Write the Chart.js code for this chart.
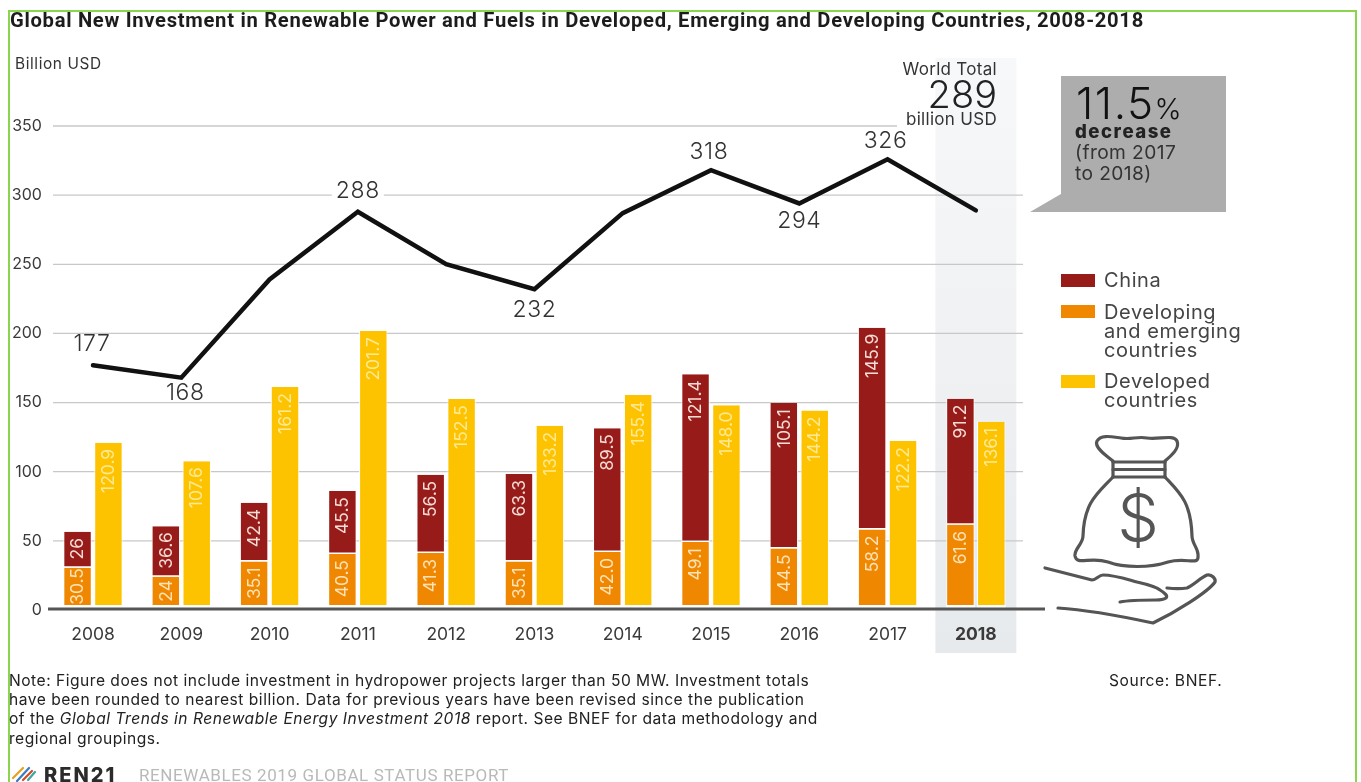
<!DOCTYPE html>
<html>
<head>
<meta charset="utf-8">
<title>Global New Investment in Renewable Power and Fuels</title>
<script src="https://cdn.jsdelivr.net/npm/chart.js@4"></script>
<style>
  html, body { margin: 0; padding: 0; background: #fff; }
  #page { position: relative; width: 1361px; height: 782px; overflow: hidden; font-family: Inter, "Liberation Sans", sans-serif; color: #333; }
  #chart { position: absolute; left: 0; top: 0; }
  #page svg { position: absolute; left: 0; top: 0; }
  .txt { position: absolute; white-space: nowrap; }
  #frame { position: absolute; left: 8px; top: 10px; width: 1345px; height: 800px; border: 2.5px solid #8ad44e; }
  #heading { left: 10px; top: 9px; font: 700 20.2px/22px Roboto, sans-serif; color: #1c1c1c; letter-spacing: .7px; }
  #unit { left: 15px; top: 55px; font-size: 15.4px; line-height: 18px; letter-spacing: .6px; }
  #world { right: 364px; top: 60px; text-align: right; font-size: 17px; line-height: 19px; letter-spacing: .3px; }
  #world b { display: block; font-weight: 300; font-size: 38px; line-height: 31px; color: #222; letter-spacing: 0; }
  #pct { left: 1076px; top: 83px; font-weight: 300; font-size: 44px; line-height: 40px; color: #111; letter-spacing: 1.5px; }
  #pct span { font-size: 29px; letter-spacing: 0; }
  #callout { left: 1075px; top: 121px; font-size: 19.2px; line-height: 21px; letter-spacing: .4px; color: #333; }
  #callout b { color: #222; font-weight: 800; font-size: 18.6px; letter-spacing: 1.5px; }
  .swatch { position: absolute; left: 1061px; width: 34px; height: 13px; }
  .legend { left: 1104px; font-size: 20px; line-height: 19px; letter-spacing: .6px; color: #444; }
  #note { left: 9px; top: 670.5px; font-size: 15.6px; line-height: 19.4px; letter-spacing: .5px; color: #222; }
  #source { left: 1109px; top: 671px; font-size: 15.6px; line-height: 19px; letter-spacing: .6px; color: #222; }
  #brand { left: 44px; top: 763px; font-weight: 800; font-size: 20px; line-height: 24px; letter-spacing: 2px; color: #2b2b2b; }
  #report { left: 139px; top: 764px; font: 400 17px/22px "Liberation Sans Narrow", Roboto, sans-serif; letter-spacing: .6px; color: #b9b9b9; }
</style>
</head>
<body>
<div id="page">
  <canvas id="chart" width="1361" height="782"></canvas>
  <svg width="1361" height="782" fill="none">
    <!-- callout box -->
    <path d="M1061 76H1226V212H1030L1061 194Z" fill="#aeadae"/>
    <!-- money bag and open hand -->
    <g stroke="#555" stroke-width="3.2" stroke-linejoin="round" stroke-linecap="round">
      <path d="M1113 461C1105 455 1094 447 1097 441C1101 434 1113 437 1121 438C1131 440 1137 436 1147 438C1158 440 1174 434 1177 441C1180 448 1172 455 1165 461"/>
      <path d="M1113 462H1165M1113 469.5H1165M1113 477H1165"/>
      <path d="M1113 462V477M1165 462V477"/>
      <path d="M1113 477C1098 493 1084 502 1083 536C1083 544 1074 549 1075 556C1077 566 1090 556 1108 562C1124 568 1150 568 1168 562C1186 557 1199 566 1198 556C1199 549 1192 544 1192 536C1191 502 1180 493 1165 477"/>
      <path d="M1045 568L1092 580C1096 580 1099 575 1103 575C1114 575 1126 579 1137 582C1146 584 1155 586 1160 590C1165 593 1168 596 1166 598C1163 600 1160 600 1156 600C1144 600 1130 600 1120 602"/>
      <path d="M1167 588C1175 589 1181 589 1187 588C1194 585 1200 578 1207 575C1212 574 1216 579 1215 582C1208 592 1176 612 1153 623C1125 617 1090 610 1058 608"/>
    </g>
    <text x="1138" y="541" text-anchor="middle" font-family="Inter" font-weight="300" font-size="66" fill="#555">$</text>
    <!-- report mark -->
    <g stroke-width="2.2" stroke-linecap="round">
      <path d="M13 778L23 768" stroke="#e8a020"/>
      <path d="M17 781L29 768" stroke="#3b7bbf"/>
      <path d="M23 780L32 771" stroke="#d1492a"/>
      <path d="M28 780L35 772" stroke="#3aa7a0"/>
    </g>
  </svg>
  <div id="frame"></div>
  <div class="txt" id="heading">Global New Investment in Renewable Power and Fuels in Developed, Emerging and Developing Countries, 2008-2018</div>
  <div class="txt" id="unit">Billion USD</div>
  <div class="txt" id="world">World Total<b>289</b>billion USD</div>
  <div class="txt" id="pct">11.5<span>%</span></div>
  <div class="txt" id="callout"><b>decrease</b><br>(from 2017<br>to 2018)</div>
  <div class="swatch" style="top:274px;background:#971b18"></div>
  <div class="swatch" style="top:305px;background:#ef8700"></div>
  <div class="swatch" style="top:375px;background:#fdc300"></div>
  <div class="txt legend" style="top:271px">China</div>
  <div class="txt legend" style="top:303px">Developing<br>and emerging<br>countries</div>
  <div class="txt legend" style="top:372px">Developed<br>countries</div>
  <div class="txt" id="note">Note: Figure does not include investment in hydropower projects larger than 50 MW. Investment totals<br>have been rounded to nearest billion. Data for previous years have been revised since the publication<br>of the <i>Global Trends in Renewable Energy Investment 2018</i> report. See BNEF for data methodology and<br>regional groupings.</div>
  <div class="txt" id="source">Source: BNEF.</div>
  <div class="txt" id="brand">REN21</div>
  <div class="txt" id="report">RENEWABLES 2019 GLOBAL STATUS REPORT</div>
</div>

<script>
const years = ['2008', '2009', '2010', '2011', '2012', '2013', '2014', '2015', '2016', '2017', '2018'];

// kept as text because the printed form varies (24, 42.0, 148.0)
const developingText = ['30.5', '24', '35.1', '40.5', '41.3', '35.1', '42.0', '49.1', '44.5', '58.2', '61.6'];
const chinaText = ['26', '36.6', '42.4', '45.5', '56.5', '63.3', '89.5', '121.4', '105.1', '145.9', '91.2'];
const developedText = ['120.9', '107.6', '161.2', '201.7', '152.5', '133.2', '155.4', '148.0', '144.2', '122.2', '136.1'];

const worldTotal = [177, 168, 239, 288, 250, 232, 287, 318, 294, 326, 289];
const totalLabels = ['177', '168', '', '288', '', '232', '', '318', '294', '326', ''];
// label offset from the line point: dx, dy in px
const totalLabelOffsets = [[-1, -21], [4, 15], [0, 0], [0, -21], [0, 0], [0, 21], [0, 0], [-2, -18], [0, 18], [-2, -18], [0, 0]];

const yTicks = { min: 0, max: 350, step: 50 };

const RED = '#971b18', ORANGE = '#ef8700', YELLOW = '#fdc300';
const GRID = '#c8c8c8', AXIS = '#555';
const AXIS_GAP = 5; // white strip between bar feet and the axis line

function barDataset(label, text, color, stack, labelColor) {
  return {
    label: label,
    data: text.map(Number),
    valueText: text,
    valueColor: labelColor,
    backgroundColor: color,
    borderColor: '#fff',
    borderWidth: { top: 0, left: 1, right: 1, bottom: 1.5 },
    borderSkipped: false,
    stack: stack,
    categoryPercentage: 0.7,
    barPercentage: 0.92,
    order: 2
  };
}

// grey column behind the last year plus the grid lines
const backdrop = {
  id: 'backdrop',
  beforeDraw(chart) {
    const ctx = chart.ctx, x = chart.scales.x;
    const cx = x.getPixelForValue(years.length - 1);
    const fade = ctx.createLinearGradient(0, 58, 0, 653);
    fade.addColorStop(0, '#f7f8f9');
    fade.addColorStop(1, '#e7eaed');
    ctx.save();
    ctx.fillStyle = fade;
    ctx.fillRect(cx - 40.5, 58, 81, 595);
    ctx.restore();
  },
  beforeDatasetsDraw(chart) {
    const ctx = chart.ctx, y = chart.scales.y;
    ctx.save();
    ctx.strokeStyle = GRID;
    ctx.lineWidth = 1.3;
    y.ticks.forEach(t => {
      if (t.value === 0) return;
      const py = y.getPixelForValue(t.value);
      ctx.beginPath();
      ctx.moveTo(53, py);
      ctx.lineTo(t.value === 350 ? 897 : 1023, py);
      ctx.stroke();
    });
    ctx.restore();
  }
};

// rotated value labels, white gap above the axis, axis line and line labels
const annotations = {
  id: 'annotations',
  afterDatasetsDraw(chart) {
    const ctx = chart.ctx, x = chart.scales.x, y = chart.scales.y;
    const zero = y.getPixelForValue(0);
    ctx.save();

    chart.data.datasets.forEach((ds, i) => {
      if (!ds.valueText) return;
      chart.getDatasetMeta(i).data.forEach((bar, j) => {
        ctx.fillStyle = '#fff';
        ctx.fillRect(bar.x - bar.width / 2, zero - AXIS_GAP, bar.width, 3);
        ctx.save();
        ctx.font = '17.5px "Liberation Sans Narrow", Inter, sans-serif';
        // keep the number 6px under the bar top, or centre it when the segment is tight
        const room = Math.min(bar.base, zero - AXIS_GAP) - bar.y;
        const inset = Math.min(6, (room - ctx.measureText(ds.valueText[j]).width) / 2);
        ctx.translate(bar.x, bar.y + inset);
        ctx.rotate(-Math.PI / 2);
        ctx.fillStyle = ds.valueColor;
        ctx.textAlign = 'right';
        ctx.textBaseline = 'middle';
        ctx.fillText(ds.valueText[j], 0, 0.5);
        ctx.restore();
      });
    });

    ctx.strokeStyle = AXIS;
    ctx.lineWidth = 3;
    ctx.beginPath();
    ctx.moveTo(48, zero - 1);
    ctx.lineTo(1045, zero - 1);
    ctx.stroke();

    ctx.font = '300 23px Inter, sans-serif';
    ctx.letterSpacing = '0.6px';
    ctx.textAlign = 'center';
    ctx.textBaseline = 'middle';
    totalLabels.forEach((text, i) => {
      if (!text) return;
      const px = x.getPixelForValue(i) + totalLabelOffsets[i][0];
      const py = y.getPixelForValue(worldTotal[i]) + totalLabelOffsets[i][1];
      const w = ctx.measureText(text).width;
      ctx.fillStyle = '#fff';
      ctx.fillRect(px - w / 2 - 4, py - 9, w + 8, 18);
      ctx.fillStyle = '#333';
      ctx.fillText(text, px, py);
    });
    ctx.restore();
  }
};

new Chart(document.getElementById('chart'), {
  data: {
    labels: years,
    datasets: [
      barDataset('Developing and emerging countries', developingText, ORANGE, 'region', '#ffe2b5'),
      barDataset('China', chinaText, RED, 'region', '#f5dcd6'),
      barDataset('Developed countries', developedText, YELLOW, 'developed', '#ffe994'),
      {
        type: 'line',
        label: 'World Total',
        data: worldTotal,
        stack: 'total',
        borderColor: '#111',
        borderWidth: 4.5,
        borderCapStyle: 'round',
        borderJoinStyle: 'miter',
        tension: 0,
        pointRadius: 0,
        order: 1
      }
    ]
  },
  type: 'bar',
  options: {
    responsive: false,
    animation: false,
    layout: { padding: { left: 0, right: 341, top: 126, bottom: 132 } },
    plugins: { legend: { display: false }, tooltip: { enabled: false } },
    scales: {
      x: {
        stacked: true,
        afterFit: s => { s.height = 40; },
        grid: { display: false },
        border: { display: false },
        ticks: {
          autoSkip: false,
          maxRotation: 0,
          padding: 6,
          color: '#3a3a3a',
          font: ctx => ({ family: 'Inter', size: 17.5, weight: ctx.index === years.length - 1 ? '700' : '400' })
        }
      },
      y: {
        stacked: true,
        min: yTicks.min,
        max: yTicks.max,
        afterFit: s => { s.width = 48.85; },
        grid: { display: false },
        border: { display: false },
        ticks: {
          stepSize: yTicks.step,
          padding: -1,
          color: '#3a3a3a',
          font: { family: 'Inter', size: 16 }
        }
      }
    }
  },
  plugins: [backdrop, annotations]
});
</script>
</body>
</html>
